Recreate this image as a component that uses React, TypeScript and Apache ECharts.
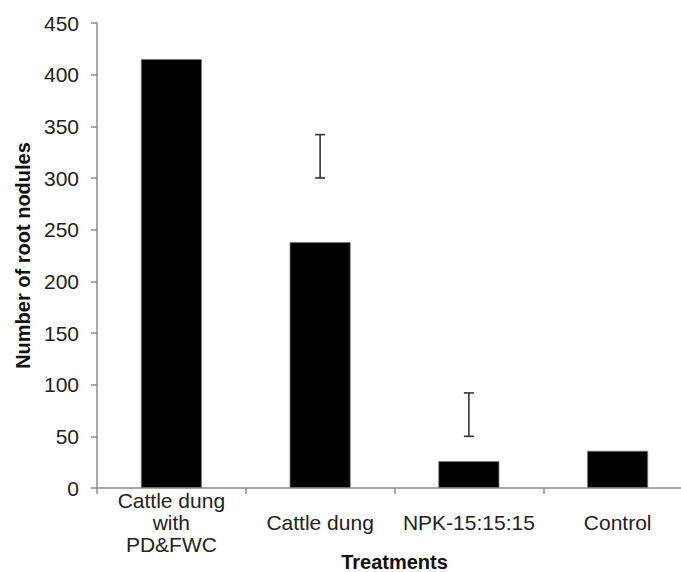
import React, { useEffect, useRef } from "react";
import * as echarts from "echarts";

const categories = ["Cattle dung\nwith\nPD&FWC", "Cattle dung", "NPK-15:15:15", "Control"];
const nodules = [415, 238, 26, 36];
const errLow = [null, 300, 50, null];
const errHigh = [null, 342, 92, null];
const yTicks = { min: 0, max: 450, interval: 50 };

export default function App() {
  const ref = useRef<HTMLDivElement>(null);
  useEffect(() => {
    if (!ref.current) return;
    const chart = echarts.init(ref.current, undefined, { renderer: "svg" });
    const errData = categories
      .map((_, i) => [i, errLow[i], errHigh[i]])
      .filter((d) => d[1] != null);
    chart.setOption({
      animation: false,
      backgroundColor: "#fff",
      textStyle: { fontFamily: "Liberation Sans, Arial, sans-serif" },
      grid: { left: 97, right: 8, top: 23, bottom: 84, containLabel: false, outerBoundsMode: "none" },
      xAxis: {
        type: "category",
        data: categories,
        name: "Treatments",
        nameLocation: "middle",
        nameGap: 64,
        nameMoveOverlap: false,
        nameTextStyle: { fontSize: 20, lineHeight: 19, fontWeight: "bold", color: "#111" },
        axisLine: { lineStyle: { color: "#8c8c8c", width: 1.5 } },
        axisTick: { show: true, length: 6, alignWithLabel: false, lineStyle: { color: "#8c8c8c", width: 1.5 } },
        axisLabel: { fontSize: 21, color: "#222", margin: 34, lineHeight: 22, verticalAlign: "middle", interval: 0 },
      },
      yAxis: {
        type: "value",
        min: yTicks.min,
        max: yTicks.max,
        interval: yTicks.interval,
        name: "Number of root nodules",
        nameLocation: "middle",
        nameGap: 64,
        nameMoveOverlap: false,
        nameTextStyle: { fontSize: 20, fontWeight: "bold", color: "#111" },
        splitLine: { show: false },
        axisLine: { show: true, lineStyle: { color: "#8c8c8c", width: 1.5 } },
        axisTick: { show: true, length: 6, lineStyle: { color: "#8c8c8c", width: 1.5 } },
        axisLabel: { fontSize: 21, color: "#222", margin: 18 },
      },
      series: [
        {
          type: "bar",
          data: nodules,
          barWidth: 61,
          itemStyle: { color: "#000", borderColor: "#777", borderWidth: 0.8 },
        },
        {
          type: "custom",
          data: errData,
          z: 10,
          renderItem: (params: any, api: any) => {
            const x = api.value(0);
            const lo = api.coord([x, api.value(1)]);
            const hi = api.coord([x, api.value(2)]);
            const hw = 5;
            const style = { stroke: "#333", lineWidth: 1.6 };
            return {
              type: "group",
              children: [
                { type: "line", shape: { x1: lo[0], y1: lo[1], x2: hi[0], y2: hi[1] }, style },
                { type: "line", shape: { x1: hi[0] - hw, y1: hi[1], x2: hi[0] + hw, y2: hi[1] }, style },
                { type: "line", shape: { x1: lo[0] - hw, y1: lo[1], x2: lo[0] + hw, y2: lo[1] }, style },
              ],
            };
          },
        },
      ],
    });
    return () => chart.dispose();
  }, []);
  return (
    <div style={{ position: "fixed", left: 0, top: 0, width: 681, height: 572, overflow: "hidden", background: "#fff" }}>
      <div ref={ref} style={{ width: 700, height: 572 }} />
    </div>
  );
}
